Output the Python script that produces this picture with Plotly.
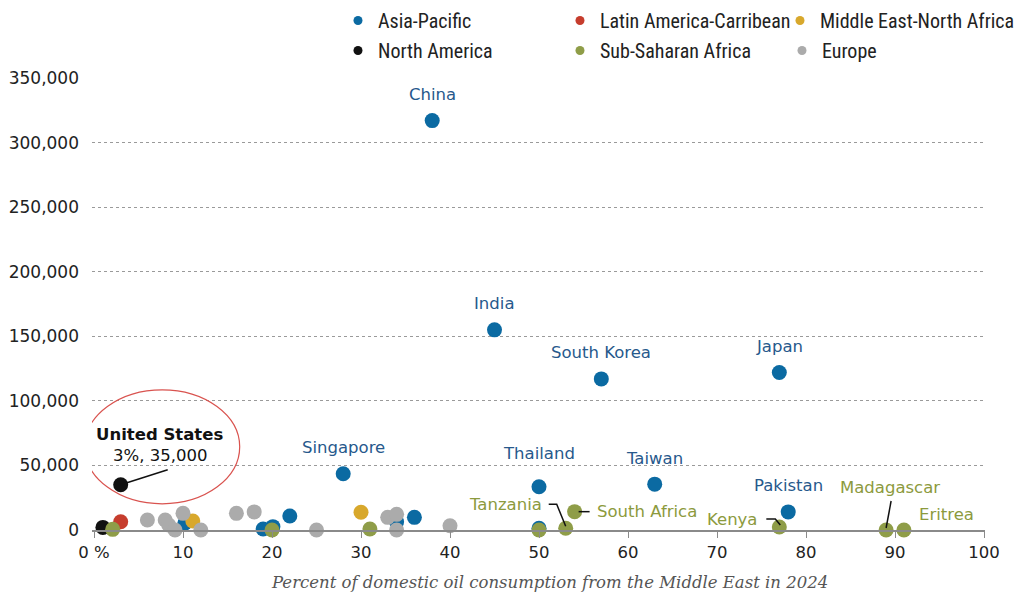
import plotly.graph_objects as go

# ---------------- data ----------------
regions = ["Asia-Pacific", "Latin America-Carribean", "Middle East-North Africa",
           "North America", "Sub-Saharan Africa", "Europe"]
colors = ["#0b6aa2", "#c63d2d", "#d8a82c", "#111111", "#8f9d48", "#ababab"]

asia_x = [38, 45, 57, 77, 28, 50, 63, 78, 50, 10.2, 19, 20.1, 22, 34, 36]
asia_y = [317000, 155000, 117000, 122000, 43500, 33500, 35500, 14000, 1300, 5200, 800, 2600, 10800, 6400, 9800]
latam_x = [3.0]
latam_y = [6400]
mena_x = [11.1, 30]
mena_y = [7000, 13700]
na_x = [1.0, 3.0]
na_y = [2000, 35000]
ssa_x = [2.1, 20, 31, 50, 53, 54, 77, 89, 91]
ssa_y = [500, 0, 800, 0, 1300, 14200, 2300, 0, 0]
europe_x = [6, 8, 8.4, 9.1, 10, 12, 16, 18, 25, 33, 34, 34, 40]
europe_y = [7700, 7700, 3900, 0, 12900, 0, 12900, 14000, 0, 9800, 12100, 0, 3300]

series_x = [asia_x, latam_x, mena_x, na_x, ssa_x, europe_x]
series_y = [asia_y, latam_y, mena_y, na_y, ssa_y, europe_y]

x_ticks = [0, 10, 20, 30, 40, 50, 60, 70, 80, 90, 100]
x_ticktext = ["0 %", "10", "20", "30", "40", "50", "60", "70", "80", "90", "100"]
y_ticks = [0, 50000, 100000, 150000, 200000, 250000, 300000, 350000]

# labelled countries: (name, x, y)
blue_labels = [("China", 38, 317000), ("India", 45, 155000), ("South Korea", 57, 117000),
               ("Japan", 77, 122000), ("Singapore", 28, 43500), ("Thailand", 50, 33500),
               ("Taiwan", 63, 35500), ("Pakistan", 78, 14000)]
green_labels = [("Tanzania", 53, 1300), ("South Africa", 54, 14200), ("Kenya", 77, 2300),
                ("Madagascar", 89, 0), ("Eritrea", 91, 0)]
us_point = (3.0, 35000)
us_label = ("United States", "3%, 35,000")

# ---------------- layout geometry ----------------
W, H = 1023, 596
ML, MR, MT, MB = 92, 38, 78, 66
XR = [-0.225, 100.11]
YR = [0, 350000]
pw, ph = W - ML - MR, H - MT - MB
px_x = (XR[1] - XR[0]) / pw     # data units per pixel (x)
px_y = (YR[1] - YR[0]) / ph     # data units per pixel (y)

LABEL_FONT = "DejaVu Sans, Roboto, sans-serif"

fig = go.Figure()

for name, col, xs, ys in zip(regions, colors, series_x, series_y):
    fig.add_trace(go.Scatter(x=xs, y=ys, mode="markers", name=name, showlegend=False,
                             marker=dict(color=col, size=15, line=dict(width=0)),
                             cliponaxis=False, hoverinfo="x+y+name"))

# legend-only traces (small dots): one legend per top-row column, one for row 2
legend_ids = ["legend", "legend4", "legend3", "legend2", "legend2", "legend2"]
for name, col, lid in zip(regions, colors, legend_ids):
    fig.add_trace(go.Scatter(x=[None], y=[None], mode="markers", name=name,
                             marker=dict(color=col, size=9), legend=lid))

# connectors (offsets in pixels from the labelled point)
def conn(x, y, offs, color="#111111"):
    xs = [x + dx * px_x for dx, dy in offs]
    ys = [y - dy * px_y for dx, dy in offs]
    fig.add_trace(go.Scatter(x=xs, y=ys, mode="lines", showlegend=False, hoverinfo="skip",
                             line=dict(color=color, width=1.5), cliponaxis=False))

lab = {n: (x, y) for n, x, y in green_labels}
conn(*lab["Tanzania"], [(-17, -24), (-9, -24), (0, -2)])
conn(*lab["South Africa"], [(4, 0), (15, 0)])
conn(*lab["Kenya"], [(-13, -8), (-4, -8), (1, -2)])
conn(*lab["Madagascar"], [(5, -29), (0, -2)])
conn(us_point[0], us_point[1], [(0, 0), (47, -15)])

ann = []
blue_txt = "#27598c"
green_txt = "#8c9a3d"
for n, x, y in blue_labels:
    ys = 33 if n == "Thailand" else 26
    ann.append(dict(x=x, y=y, text=n, showarrow=False, yshift=ys, xanchor="center", yanchor="middle",
                    font=dict(family=LABEL_FONT, size=16.5, color=blue_txt)))
green_off = {"Tanzania": (-22, 24, "right"), "South Africa": (20, 0, "left"),
             "Kenya": (-20, 8, "right"), "Madagascar": (4, 43, "center"),
             "Eritrea": (13, 16, "left")}
for n, x, y in green_labels:
    dx, dy, xa = green_off[n]
    ann.append(dict(x=x, y=y, text=n, showarrow=False, xshift=dx, yshift=dy, xanchor=xa,
                    yanchor="middle", font=dict(family=LABEL_FONT, size=16.5, color=green_txt)))
ann.append(dict(x=us_point[0], y=us_point[1], text="<b>" + us_label[0] + "</b>", showarrow=False,
                xshift=39, yshift=50, xanchor="center", yanchor="middle",
                font=dict(family=LABEL_FONT, size=16.5, color="#111111")))
ann.append(dict(x=us_point[0], y=us_point[1], text=us_label[1], showarrow=False,
                xshift=39, yshift=29, xanchor="center", yanchor="middle",
                font=dict(family=LABEL_FONT, size=16.5, color="#111111")))
ann.append(dict(x=(549 - ML) / pw, y=-0.117, xref="paper", yref="paper",
                text="<i>Percent of domestic oil consumption from the Middle East in 2024</i>",
                showarrow=False, xanchor="center", yanchor="middle",
                font=dict(family="DejaVu Serif, Georgia, serif", size=16.5, color="#555555")))

# ellipse around the US point (pixel offsets from point)
ux, uy = us_point
fig.add_shape(type="circle", xref="x", yref="y",
              x0=ux + (85 - 121) * px_x, x1=ux + (240 - 121) * px_x,
              y0=uy - (505 - 486) * px_y, y1=uy + (486 - 391) * px_y,
              line=dict(color="#d9534f", width=1.2), fillcolor="rgba(0,0,0,0)")

leg_font = dict(family="Roboto Condensed, DejaVu Sans Condensed, sans-serif",
                size=20, color="#222222")
leg_common = dict(orientation="h", xref="container", yref="container", xanchor="left",
                  yanchor="top", font=leg_font, bgcolor="rgba(0,0,0,0)", itemwidth=30)
fig.update_layout(
    width=W, height=H,
    margin=dict(l=ML, r=MR, t=MT, b=MB, autoexpand=False),
    paper_bgcolor="white", plot_bgcolor="white",
    annotations=ann,
    legend=dict(x=338 / W, y=1 - 1 / H, **leg_common),
    legend4=dict(x=560 / W, y=1 - 1 / H, **leg_common),
    legend3=dict(x=780 / W, y=1 - 1 / H, **leg_common),
    legend2=dict(x=338 / W, y=1 - 31 / H, entrywidth=177, entrywidthmode="pixels", **leg_common),
    xaxis=dict(range=XR, tickvals=x_ticks, ticktext=x_ticktext, showgrid=False, zeroline=False,
               showline=True, linecolor="#8a8a8a", linewidth=1.5, ticks="outside", ticklen=6,
               tickcolor="#8a8a8a", tickwidth=1.2,
               tickfont=dict(family=LABEL_FONT, size=16.5, color="#222222")),
    yaxis=dict(range=YR, tickvals=y_ticks, tickformat=",", showgrid=True, gridcolor="#9a9a9a",
               griddash="dot", gridwidth=1, zeroline=False, showline=False, ticks="",
               ticklabelstandoff=12,
               tickfont=dict(family=LABEL_FONT, size=17, color="#222222")),
    showlegend=True,
)

fig.write_html("out.html")
